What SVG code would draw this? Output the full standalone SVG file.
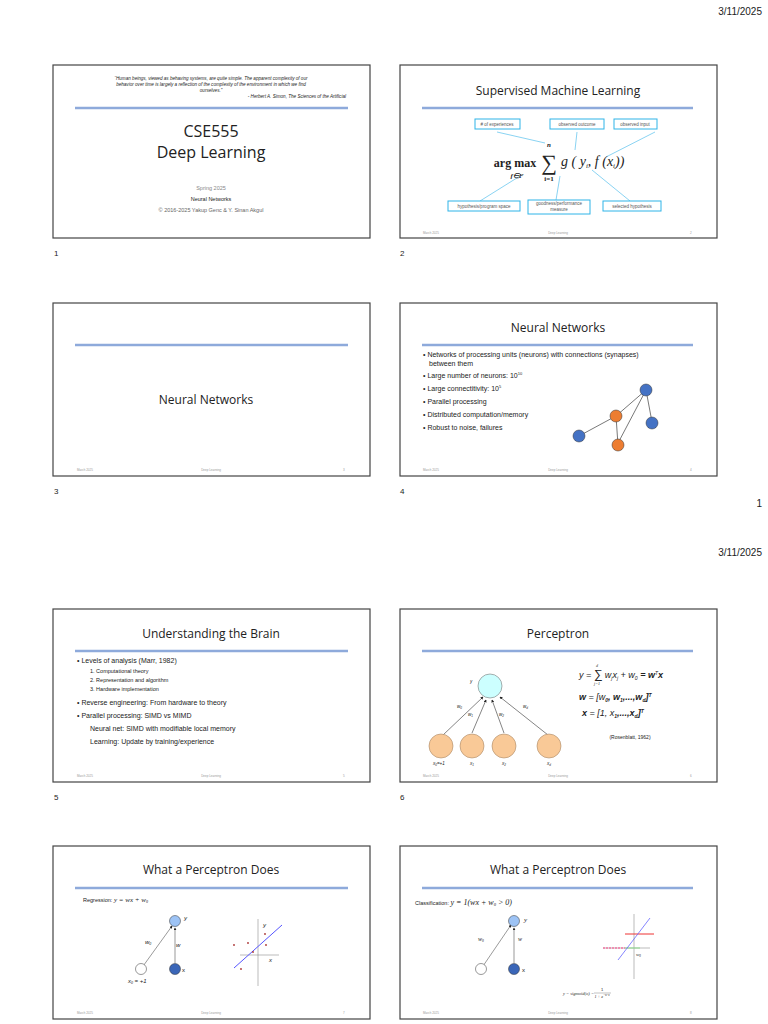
<svg xmlns="http://www.w3.org/2000/svg" width="768" height="1024" viewBox="0 0 768 1024">
<style>
text{font-family:"Liberation Sans",Arial,sans-serif;fill:#222}
.slide{fill:#fff;stroke:#444;stroke-width:1.2}
.bar{stroke:#8eaadb;stroke-width:2.5}
.t{font-family:"Open Sans","Liberation Sans",sans-serif;font-size:12px;text-anchor:middle}
.ft{font-size:3px;fill:#999}
.pn{font-size:8px}
.b{font-size:7px}
.box{fill:#fff;stroke:#2fb4e8;stroke-width:1}
.bl{font-size:4.5px;fill:#555;text-anchor:middle}
.ln{stroke:#6cc8ef;stroke-width:0.8}
.m{font-family:"Liberation Serif",serif;font-style:italic}
</style>
<defs><marker id="ah" markerWidth="5" markerHeight="5" refX="4" refY="2.5" orient="auto"><path d="M0,0L5,2.5L0,5z" fill="#222"/></marker></defs>
<rect width="768" height="1024" fill="#fff"/>
<text x="762" y="15" text-anchor="end" style="font-size:10px">3/11/2025</text>
<text x="762" y="507" text-anchor="end" style="font-size:10px">1</text>
<text x="762" y="556" text-anchor="end" style="font-size:10px">3/11/2025</text>
<g class="pn"><text x="54" y="256">1</text><text x="400" y="256">2</text><text x="54" y="494">3</text><text x="400" y="494">4</text><text x="54" y="800">5</text><text x="400" y="800">6</text></g>

<g id="slide1">
<rect class="slide" x="53" y="65" width="317" height="173"/>
<text x="211" y="80" text-anchor="middle" style="font-size:4.6px;font-style:italic">“Human beings, viewed as behaving systems, are quite simple. The apparent complexity of our</text>
<text x="211" y="86" text-anchor="middle" style="font-size:4.6px;font-style:italic">behavior over time is largely a reflection of the complexity of the environment in which we find</text>
<text x="211" y="92" text-anchor="middle" style="font-size:4.6px;font-style:italic">ourselves.”</text>
<text x="346" y="98" text-anchor="end" style="font-size:4.6px;font-style:italic">- Herbert A. Simon, The Sciences of the Artificial</text>
<line class="bar" x1="75" y1="108" x2="348" y2="108"/>
<text class="t" x="211" y="137" style="font-size:16px">CSE555</text>
<text class="t" x="211" y="158" style="font-size:16px">Deep Learning</text>
<text x="211" y="190" text-anchor="middle" style="font-size:5.5px;fill:#888">Spring 2025</text>
<text x="211" y="201" text-anchor="middle" style="font-size:5.5px">Neural Networks</text>
<text x="211" y="212" text-anchor="middle" style="font-size:5.5px;fill:#666">© 2016-2025 Yakup Genc &amp; Y. Sinan Akgul</text>
</g>

<g id="slide2">
<rect class="slide" x="400" y="65" width="317" height="173"/>
<text class="t" x="558" y="95">Supervised Machine Learning</text>
<line class="bar" x1="422" y1="108" x2="693" y2="108"/>
<g>
<line class="ln" x1="497" y1="132" x2="545" y2="143"/><line class="ln" x1="577" y1="132" x2="575" y2="150"/><line class="ln" x1="655" y1="132" x2="606" y2="157"/>
<line class="ln" x1="520" y1="176" x2="480" y2="201"/><line class="ln" x1="560" y1="176" x2="556" y2="200"/><line class="ln" x1="592" y1="170" x2="630" y2="201"/>
</g>
<rect class="box" x="475" y="119" width="45" height="10"/><text class="bl" x="497" y="126"># of experiences</text>
<rect class="box" x="550" y="119" width="54" height="10"/><text class="bl" x="577" y="126">observed outcome</text>
<rect class="box" x="614" y="119" width="43" height="10"/><text class="bl" x="635" y="126">observed input</text>
<rect class="box" x="448" y="201" width="72" height="10"/><text class="bl" x="484" y="208">hypothesis/program space</text>
<rect class="box" x="528" y="200" width="62" height="14"/><text class="bl" x="559" y="205">goodness/performance</text><text class="bl" x="559" y="211">measure</text>
<rect class="box" x="603" y="201" width="58" height="10"/><text class="bl" x="632" y="208">selected hypothesis</text>
<text x="515" y="167" text-anchor="middle" style="font-family:'Liberation Serif',serif;font-size:12px;font-weight:bold">arg max</text>
<text x="517" y="178" text-anchor="middle" class="m" style="font-size:7px;font-weight:bold">f∈F</text>
<text x="549" y="170" text-anchor="middle" style="font-family:'Liberation Serif',serif;font-size:22px">∑</text>
<text x="549" y="147" text-anchor="middle" class="m" style="font-size:7px;font-weight:bold">n</text>
<text x="549" y="181" text-anchor="middle" style="font-family:'Liberation Serif',serif;font-size:7px;font-weight:bold">i=1</text>
<text x="561" y="166" class="m" style="font-size:14px">g ( y<tspan style="font-size:7px" dy="2">i</tspan><tspan dy="-2">, f (x</tspan><tspan style="font-size:7px" dy="2">i</tspan><tspan dy="-2">))</tspan></text>
<text class="ft" x="423" y="234">March 2025</text><text class="ft" x="558" y="234" text-anchor="middle">Deep Learning</text><text class="ft" x="690" y="234">2</text>
</g>

<g id="slide3">
<rect class="slide" x="53" y="303" width="317" height="173"/>
<line class="bar" x1="75" y1="345" x2="348" y2="345"/>
<text class="t" x="206" y="404">Neural Networks</text>
<text class="ft" x="77" y="471">March 2025</text><text class="ft" x="211" y="471" text-anchor="middle">Deep Learning</text><text class="ft" x="343" y="471">3</text>
</g>

<g id="slide4">
<rect class="slide" x="400" y="303" width="317" height="173"/>
<text class="t" x="558" y="332">Neural Networks</text>
<line class="bar" x1="422" y1="345" x2="693" y2="345"/>
<g class="b">
<text x="423" y="357">• Networks of processing units (neurons) with connections (synapses)</text>
<text x="429" y="366">between them</text>
<text x="423" y="378">• Large number of neurons: 10<tspan dy="-3" style="font-size:4px">10</tspan></text>
<text x="423" y="391">• Large connectitivity: 10<tspan dy="-3" style="font-size:4px">5</tspan></text>
<text x="423" y="404">• Parallel processing</text>
<text x="423" y="417">• Distributed computation/memory</text>
<text x="423" y="430">• Robust to noise, failures</text>
</g>
<g stroke="#555" stroke-width="0.8">
<line x1="646" y1="390" x2="616" y2="416"/><line x1="646" y1="390" x2="652" y2="422"/><line x1="646" y1="390" x2="617" y2="445"/>
<line x1="616" y1="416" x2="579" y2="436"/><line x1="616" y1="416" x2="618" y2="445"/>
</g>
<g stroke="#333" stroke-width="0.5"><circle cx="646" cy="390" r="6" fill="#4472c4"/><circle cx="616" cy="416" r="6" fill="#ed7d31"/><circle cx="579" cy="436" r="6" fill="#4472c4"/><circle cx="618" cy="445" r="6" fill="#ed7d31"/><circle cx="652" cy="423" r="6" fill="#4472c4"/></g>
<text class="ft" x="423" y="471">March 2025</text><text class="ft" x="558" y="471" text-anchor="middle">Deep Learning</text><text class="ft" x="690" y="471">4</text>
</g>

<g id="slide5">
<rect class="slide" x="53" y="609" width="317" height="173"/>
<text class="t" x="211" y="638">Understanding the Brain</text>
<line class="bar" x1="75" y1="651" x2="348" y2="651"/>
<g class="b">
<text x="77" y="663">•   Levels of analysis (Marr, 1982)</text>
<text x="90" y="673" style="font-size:5.5px">1.  Computational theory</text>
<text x="90" y="682" style="font-size:5.5px">2.  Representation and algorithm</text>
<text x="90" y="691" style="font-size:5.5px">3.  Hardware implementation</text>
<text x="77" y="705">•   Reverse engineering: From hardware to theory</text>
<text x="77" y="718">•   Parallel processing: SIMD vs MIMD</text>
<text x="90" y="731">Neural net: SIMD with modifiable local memory</text>
<text x="90" y="744">Learning: Update by training/experience</text>
</g>
<text class="ft" x="77" y="777">March 2025</text><text class="ft" x="211" y="777" text-anchor="middle">Deep Learning</text><text class="ft" x="343" y="777">5</text>
</g>

<g id="slide6">
<rect class="slide" x="400" y="609" width="317" height="173"/>
<text class="t" x="558" y="638">Perceptron</text>
<line class="bar" x1="422" y1="651" x2="693" y2="651"/>
<g stroke="#333" stroke-width="0.6" marker-end="url(#ah)">
<line x1="443" y1="735" x2="483" y2="697"/><line x1="472" y1="733" x2="486" y2="700"/><line x1="504" y1="733" x2="492" y2="700"/><line x1="548" y1="735" x2="500" y2="697"/>
</g>
<circle cx="490" cy="686" r="12" fill="#ccffff" stroke="#777" stroke-width="0.6"/>
<g fill="#f9c997" stroke="#aa8866" stroke-width="0.6"><circle cx="441" cy="746" r="12"/><circle cx="472" cy="746" r="12"/><circle cx="504" cy="746" r="12"/><circle cx="549" cy="746" r="12"/></g>
<g class="m" style="font-size:4.5px"><text x="470" y="683">y</text><text x="457" y="708">w<tspan style="font-size:3px" dy="1">0</tspan></text><text x="468" y="716">w<tspan style="font-size:3px" dy="1">1</tspan></text><text x="499" y="716">w<tspan style="font-size:3px" dy="1">2</tspan></text><text x="523" y="708">w<tspan style="font-size:3px" dy="1">d</tspan></text>
<text x="433" y="765">x<tspan style="font-size:3px" dy="1">0</tspan><tspan dy="-1">=+1</tspan></text><text x="470" y="765">x<tspan style="font-size:3px" dy="1">1</tspan></text><text x="502" y="765">x<tspan style="font-size:3px" dy="1">2</tspan></text><text x="547" y="765">x<tspan style="font-size:3px" dy="1">d</tspan></text></g>
<g class="m" style="font-size:9px">
<text x="579" y="678">y = <tspan style="font-size:12px">∑</tspan> w<tspan style="font-size:5px" dy="2">j</tspan><tspan dy="-2">x</tspan><tspan style="font-size:5px" dy="2">j</tspan><tspan dy="-2"> + w</tspan><tspan style="font-size:5px" dy="2">0</tspan><tspan dy="-2" font-weight="bold"> = w</tspan><tspan style="font-size:5px" dy="-3">T</tspan><tspan dy="3" font-weight="bold">x</tspan></text>
<text x="579" y="700" font-weight="bold">w <tspan font-weight="normal">= [w</tspan><tspan style="font-size:5px" dy="2">0</tspan><tspan dy="-2">, w</tspan><tspan style="font-size:5px" dy="2">1</tspan><tspan dy="-2">,...,w</tspan><tspan style="font-size:5px" dy="2">d</tspan><tspan dy="-2">]</tspan><tspan style="font-size:5px" dy="-3">T</tspan></text>
<text x="582" y="716" font-weight="bold">x <tspan font-weight="normal">= [1, x</tspan><tspan style="font-size:5px" dy="2">1</tspan><tspan dy="-2">,...,x</tspan><tspan style="font-size:5px" dy="2">d</tspan><tspan dy="-2">]</tspan><tspan style="font-size:5px" dy="-3">T</tspan></text>
</g>
<text x="597" y="685" text-anchor="middle" class="m" style="font-size:4px">j=1</text><text x="597" y="667" text-anchor="middle" class="m" style="font-size:4px">d</text>
<text x="630" y="739" text-anchor="middle" style="font-size:5px">(Rosenblatt, 1962)</text>
<text class="ft" x="423" y="777">March 2025</text><text class="ft" x="558" y="777" text-anchor="middle">Deep Learning</text><text class="ft" x="690" y="777">6</text>
</g>

<g id="slide7">
<rect class="slide" x="53" y="846" width="317" height="173"/>
<text class="t" x="211" y="874">What a Perceptron Does</text>
<line class="bar" x1="75" y1="888" x2="348" y2="888"/>
<text x="83" y="902" style="font-size:5.5px">Regression: <tspan class="m" style="font-size:7px">y = wx + w<tspan style="font-size:4px" dy="1">0</tspan></tspan></text>
<g stroke="#555" stroke-width="0.6"><line x1="141" y1="969" x2="172" y2="926" marker-end="url(#ah)"/><line x1="175" y1="963" x2="175" y2="928" marker-end="url(#ah)"/></g>
<circle cx="175" cy="921" r="5.5" fill="#9dc3f5" stroke="#333" stroke-width="0.5"/>
<circle cx="175" cy="969" r="5.5" fill="#3a66b8" stroke="#333" stroke-width="0.5"/>
<circle cx="141" cy="969" r="5.5" fill="#fff" stroke="#333" stroke-width="0.5"/>
<g class="m" style="font-size:6px"><text x="184" y="920">y</text><text x="145" y="944">w<tspan style="font-size:3.5px" dy="1">0</tspan></text><text x="176" y="947">w</text><text x="128" y="983">x<tspan style="font-size:3.5px" dy="1">0</tspan><tspan dy="-1"> = +1</tspan></text></g>
<text x="182" y="972" style="font-size:6px">x</text>
<g stroke="#777" stroke-width="0.5"><line x1="258" y1="919" x2="258" y2="986"/><line x1="240" y1="955" x2="279" y2="955"/></g>
<line x1="234" y1="968" x2="282" y2="925" stroke="#55f" stroke-width="1"/>
<g fill="#a33"><circle cx="234" cy="945" r="0.9"/><circle cx="248" cy="943" r="0.9"/><circle cx="265" cy="934" r="0.9"/><circle cx="266" cy="945" r="0.9"/><circle cx="253" cy="952" r="0.9"/><circle cx="241" cy="969" r="0.9"/></g>
<g class="m" style="font-size:6px"><text x="263" y="927">y</text><text x="269" y="962">x</text></g>
<text class="ft" x="77" y="1014">March 2025</text><text class="ft" x="211" y="1014" text-anchor="middle">Deep Learning</text><text class="ft" x="343" y="1014">7</text>
</g>

<g id="slide8">
<rect class="slide" x="400" y="846" width="317" height="173"/>
<text class="t" x="558" y="874">What a Perceptron Does</text>
<line class="bar" x1="422" y1="888" x2="693" y2="888"/>
<text x="415" y="905" style="font-size:5.5px">Classification: <tspan class="m" style="font-size:8px">y = 1(wx + w<tspan style="font-size:4.5px" dy="1">0</tspan><tspan dy="-1"> &gt; 0)</tspan></tspan></text>
<g stroke="#555" stroke-width="0.6"><line x1="481" y1="969" x2="511" y2="925" marker-end="url(#ah)"/><line x1="514" y1="963" x2="514" y2="928" marker-end="url(#ah)"/></g>
<circle cx="514" cy="921" r="5.5" fill="#9dc3f5" stroke="#333" stroke-width="0.5"/>
<circle cx="514" cy="969" r="5.5" fill="#3a66b8" stroke="#333" stroke-width="0.5"/>
<circle cx="481" cy="969" r="5.5" fill="#fff" stroke="#333" stroke-width="0.5"/>
<text x="524" y="922" class="m" style="font-size:7px">y</text><text x="478" y="941" class="m" style="font-size:6px">w<tspan style="font-size:3.5px" dy="1">0</tspan></text><text x="518" y="941" class="m" style="font-size:6px">w</text><text x="522" y="972" style="font-size:6px">x</text>
<g stroke="#777" stroke-width="0.5"><line x1="634" y1="914" x2="634" y2="979"/><line x1="603" y1="948" x2="650" y2="948"/></g>
<line x1="603" y1="948" x2="625" y2="948" stroke="#f48" stroke-width="1.2" stroke-dasharray="2,1"/>
<line x1="625" y1="948" x2="640" y2="948" stroke="#9d9" stroke-width="1.2"/>
<line x1="625" y1="934" x2="654" y2="934" stroke="#e33" stroke-width="1"/>
<line x1="618" y1="960" x2="650" y2="918" stroke="#66f" stroke-width="0.8"/>
<text x="636" y="956" class="m" style="font-size:5px">w<tspan style="font-size:3px" dy="1">0</tspan></text>
<text x="563" y="995" class="m" style="font-size:4.5px">y = sigmoid(o) =</text>
<text x="602" y="991" style="font-size:4px" text-anchor="middle">1</text><line x1="594" y1="993" x2="611" y2="993" stroke="#333" stroke-width="0.3"/><text x="602" y="998" class="m" style="font-size:4px" text-anchor="middle">1 + e<tspan dy="-2" style="font-size:3px">−wᵀx</tspan></text>
<text class="ft" x="423" y="1014">March 2025</text><text class="ft" x="558" y="1014" text-anchor="middle">Deep Learning</text><text class="ft" x="690" y="1014">8</text>
</g>
</svg>
